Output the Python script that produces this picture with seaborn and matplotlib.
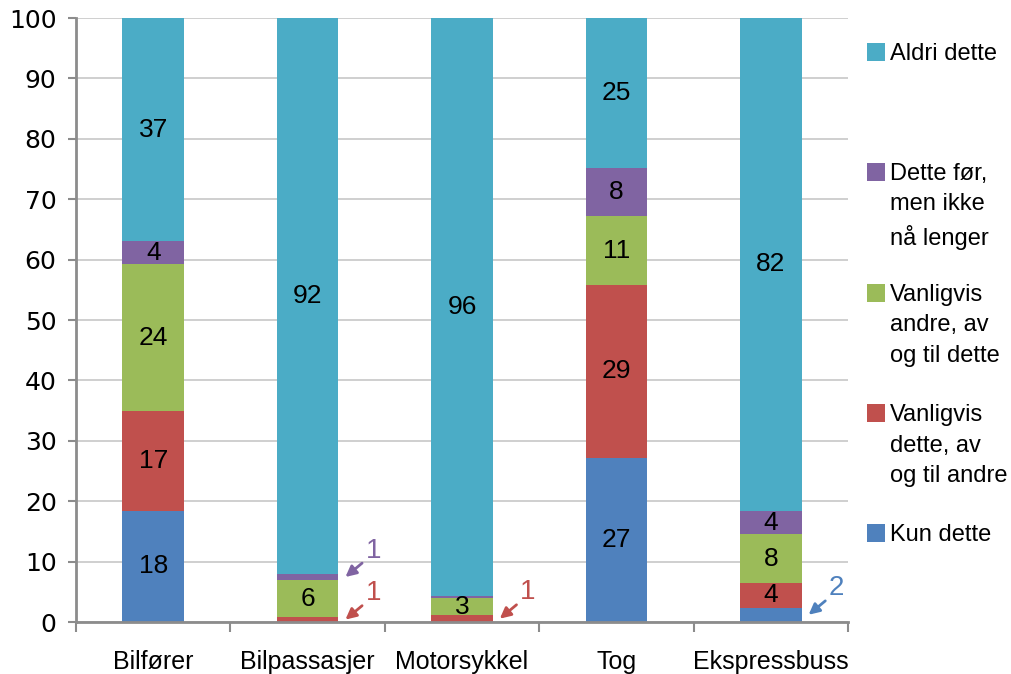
import matplotlib
matplotlib.use('Agg')
import matplotlib.pyplot as plt
import seaborn as sns
import numpy as np
import pandas as pd
from matplotlib.patches import Rectangle
from matplotlib.ticker import FixedLocator

# data (andel i prosent, lest av figuren)
categories = ['Bilfører', 'Bilpassasjer', 'Motorsykkel', 'Tog', 'Ekspressbuss']
kun_dette = [18.4, 0.0, 0.0, 27.2, 2.4]
vanligvis_dette = [16.6, 0.8, 1.1, 28.6, 4.0]
vanligvis_andre = [24.2, 6.1, 2.9, 11.4, 8.1]
dette_for = [3.8, 1.1, 0.3, 7.9, 3.9]
aldri_dette = [37.0, 92.0, 95.7, 24.9, 81.6]

series_names = ['Kun dette',
                'Vanligvis\ndette, av\nog til andre',
                'Vanligvis\nandre, av\nog til dette',
                'Dette før,\nmen ikke\nnå lenger',
                'Aldri dette']
series_values = [kun_dette, vanligvis_dette, vanligvis_andre, dette_for, aldri_dette]
colors = ['#4F81BD', '#C0504D', '#9BBB59', '#8064A2', '#4BACC6']
yticks = list(range(0, 101, 10))

# små verdier som vises med pil: (kategori, serie)
small_labels = [(1, 3), (1, 1), (2, 1), (4, 0)]

sns.set_theme(style='white')
plt.rcParams['font.family'] = ['Liberation Sans', 'DejaVu Sans']

fig = plt.figure(figsize=(10.12, 6.74), dpi=100)
ax = fig.add_axes([76 / 1012, 52 / 674, 772 / 1012, 604 / 674])

bottoms = np.vstack([np.zeros(len(categories)), np.cumsum(series_values, axis=0)[:-1]])
tops = np.cumsum(series_values, axis=0)

# tegn kumulative stolper fra toppen og ned
for s in range(len(series_values) - 1, -1, -1):
    df = pd.DataFrame({'kategori': categories, 'topp': tops[s]})
    sns.barplot(data=df, x='kategori', y='topp', order=categories, color=colors[s],
                saturation=1, width=0.4, edgecolor='none', ax=ax, zorder=3)

# verdier inne i stolpene
for s, vals in enumerate(series_values):
    for i, v in enumerate(vals):
        if round(v) >= 3:
            ax.text(i, bottoms[s][i] + v / 2, str(round(v)), ha='center', va='center',
                    fontsize=19, color='black', zorder=5)

# små verdier med pil
for i, s in small_labels:
    v = series_values[s][i]
    mid = bottoms[s][i] + v / 2
    if s == 0:
        mid = max(mid, 0.7)
    tip = (i + 0.245, mid)
    ax.annotate('', xy=tip, xytext=(12, 10), textcoords='offset points',
                arrowprops=dict(arrowstyle='-|>', color=colors[s], lw=2,
                                mutation_scale=16, shrinkA=0, shrinkB=0),
                zorder=6, annotation_clip=False)
    ax.annotate(str(max(round(v), 1)), xy=tip, xytext=(20, 19), textcoords='offset points',
                ha='center', va='center', fontsize=20, color=colors[s], zorder=6,
                annotation_clip=False)

ax.set_xlim(-0.5, len(categories) - 0.5)
ax.set_ylim(0, 100)
ax.set_yticks(yticks)
ax.set_yticklabels([str(t) for t in yticks], family='DejaVu Sans', fontsize=18, color='black')
ax.set_xlabel('')
ax.set_ylabel('')
ax.grid(axis='y', color='#CFCFCF', lw=1.4, zorder=0)
ax.grid(axis='x', visible=False)

for side in ['top', 'right']:
    ax.spines[side].set_visible(False)
for side in ['left', 'bottom']:
    ax.spines[side].set_color('#8C8C8C')
    ax.spines[side].set_linewidth(2)
    ax.spines[side].set_zorder(4)

ax.xaxis.set_minor_locator(FixedLocator(np.arange(-0.5, len(categories), 1.0)))
ax.tick_params(axis='x', which='major', length=0, pad=20, labelsize=18, labelcolor='black')
ax.tick_params(axis='x', which='minor', bottom=True, length=7, width=1.5, color='#8C8C8C', direction='out')
ax.tick_params(axis='y', which='major', left=True, length=6, width=1.5, color='#8C8C8C',
               direction='out', pad=8)

# forklaring til høyre
legend_y = [52, 172, 293, 413, 533]
for s in range(len(series_names) - 1, -1, -1):
    yc = legend_y[len(series_names) - 1 - s]
    fig.add_artist(Rectangle((867 / 1012, 1 - (yc + 9) / 674), 18 / 1012, 18 / 674,
                             transform=fig.transFigure, facecolor=colors[s], edgecolor='none'))
    fig.text(890 / 1012, 1 - (yc - 9) / 674, series_names[s], ha='left', va='top',
             fontsize=17, linespacing=1.5, color='black')

fig.savefig('out.png', dpi=100)
